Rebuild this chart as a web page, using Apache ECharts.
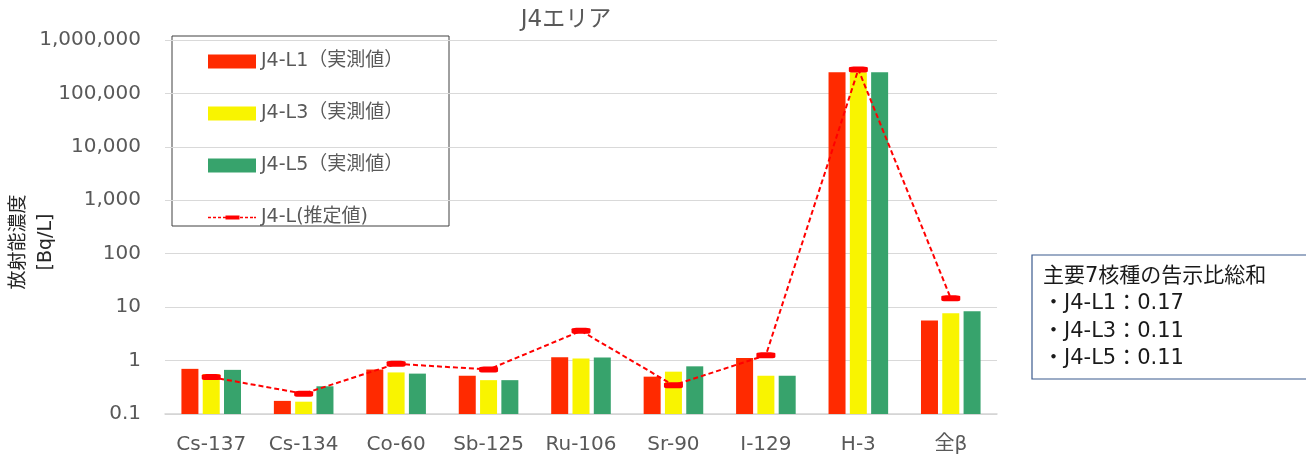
<!DOCTYPE html>
<html>
<head>
<meta charset="utf-8">
<script src="https://cdn.jsdelivr.net/npm/echarts@6/dist/echarts.min.js"></script>
<style>
  html, body { margin: 0; padding: 0; background: #ffffff; }
  #chart { width: 1306px; height: 461px; }
</style>
</head>
<body>
<div id="chart"></div>
<script>
// Nuclides on the category axis
const categories = ['Cs-137', 'Cs-134', 'Co-60', 'Sb-125', 'Ru-106', 'Sr-90', 'I-129', 'H-3', '全β'];

// Measured concentrations [Bq/L]
const seriesNames = ['J4-L1（実測値）', 'J4-L3（実測値）', 'J4-L5（実測値）', 'J4-L(推定値)'];
const l1Measured = [0.70, 0.176, 0.68, 0.52, 1.15, 0.50, 1.12, 250000, 5.6];
const l3Measured = [0.56, 0.17, 0.60, 0.43, 1.09, 0.62, 0.52, 250000, 7.7];
const l5Measured = [0.67, 0.33, 0.57, 0.43, 1.14, 0.78, 0.52, 250000, 8.4];
// Estimated concentrations [Bq/L]
const lEstimated = [0.49, 0.24, 0.87, 0.68, 3.6, 0.345, 1.26, 281000, 14.6];

// Y axis tick labels (log scale, one per decade)
const yTickLabels = ['0.1', '1', '10', '100', '1,000', '10,000', '100,000', '1,000,000'];

// Sum of notification ratios for the main 7 nuclides
const ratioTitle = '主要7核種の告示比総和';
const ratioLines = ['・J4-L1：0.17', '・J4-L3：0.11', '・J4-L5：0.11'];

const FONT = 'DejaVu Sans, "Noto Sans CJK JP", sans-serif';
const GRAY = '#595959';
const AXIS_FLOOR = 0.1;   // bars rise from the bottom of the log axis
const BAR_W = 17;
const BAR_PITCH = 21.3;

// Legend glyph for the estimate: short dashes with a flat marker in the middle.
// The two tiny corner specks pin the glyph box to the full 48x14 item size.
const estimateIcon = 'path://M0,0L0.01,0L0,0.01Z M48,14L47.99,14L48,13.99Z ' +
  'M0,6.3H3V7.7H0Z M5,6.3H8V7.7H5Z M10,6.3H13V7.7H10Z M15,6.3H17.5V7.7H15Z ' +
  'M17.5,5H31.5V9H17.5Z ' +
  'M32,6.3H35V7.7H32Z M37,6.3H40V7.7H37Z M42,6.3H45V7.7H42Z M46,6.3H48V7.7H46Z';

const chart = echarts.init(document.getElementById('chart'), null, { renderer: 'canvas' });

function tickLabel(v) {
  const exp = Math.round(Math.log10(v));
  return yTickLabels[exp + 1] !== undefined ? yTickLabels[exp + 1] : String(v);
}

// Grouped bar drawn from the axis floor up to its value on the log scale
function barSeries(name, values, color, slot) {
  return {
    name: name,
    type: 'custom',
    data: values.map((v, i) => [i, v]),
    encode: { x: 0, y: 1 },
    itemStyle: { color: color },
    z: 2,
    renderItem: function (params, api) {
      const i = api.value(0);
      const top = api.coord([i, api.value(1)]);
      const base = api.coord([i, AXIS_FLOOR]);
      const cx = top[0] + (slot - 1) * BAR_PITCH;
      return {
        type: 'rect',
        shape: { x: cx - BAR_W / 2, y: top[1], width: BAR_W, height: base[1] - top[1] },
        style: { fill: color }
      };
    }
  };
}

chart.setOption({
  animation: false,
  title: {
    text: 'J4エリア',
    left: 561,
    textAlign: 'center',
    top: 4,
    textStyle: { fontFamily: FONT, fontSize: 23, fontWeight: 'normal', color: GRAY }
  },
  grid: { left: 165, right: 309, top: 40, bottom: 47, containLabel: false },
  legend: {
    orient: 'vertical',
    left: 208,
    top: 52,
    padding: 0,
    itemGap: 33,
    itemWidth: 48,
    itemHeight: 14,
    data: [
      { name: seriesNames[0], icon: 'rect' },
      { name: seriesNames[1], icon: 'rect' },
      { name: seriesNames[2], icon: 'rect' },
      { name: seriesNames[3], icon: estimateIcon }
    ],
    textStyle: { fontFamily: FONT, fontSize: 19, color: GRAY },
    selectedMode: false
  },
  xAxis: {
    type: 'category',
    data: categories,
    axisLine: { lineStyle: { color: '#d4d4d4', width: 1.5 } },
    axisTick: { inside: true, length: 6, lineStyle: { color: '#d4d4d4' } },
    axisLabel: { fontFamily: FONT, fontSize: 20, color: GRAY, margin: 21 }
  },
  yAxis: {
    type: 'log',
    logBase: 10,
    min: 0.1,
    max: 1000000,
    splitNumber: 7,
    axisLine: { show: false },
    axisTick: { show: false },
    splitLine: { lineStyle: { color: '#d9d9d9', width: 1 } },
    axisLabel: {
      fontFamily: FONT, fontSize: 20, color: GRAY, margin: 24,
      formatter: tickLabel
    }
  },
  graphic: [
    {
      type: 'rect',
      shape: { x: 172, y: 36, width: 277, height: 190 },
      style: { fill: 'none', stroke: '#404040', lineWidth: 1 },
      silent: true
    },
    {
      type: 'text',
      x: 33, y: 242,
      rotation: Math.PI / 2,
      style: {
        text: '放射能濃度\n[Bq/L]',
        font: '19px ' + FONT,
        fill: '#262626',
        textAlign: 'center',
        textVerticalAlign: 'middle',
        lineHeight: 27
      },
      silent: true
    },
    {
      type: 'rect',
      shape: { x: 1032, y: 255, width: 280, height: 124 },
      style: { fill: '#ffffff', stroke: '#3b5a8e', lineWidth: 1.2 },
      silent: true
    },
    {
      type: 'text',
      x: 1043, y: 263,
      style: {
        text: [ratioTitle].concat(ratioLines).join('\n'),
        font: '21px ' + FONT,
        fill: '#1a1a1a',
        lineHeight: 27.3
      },
      silent: true
    }
  ],
  series: [
    barSeries(seriesNames[0], l1Measured, '#ff2a00', 0),
    barSeries(seriesNames[1], l3Measured, '#f9f400', 1),
    barSeries(seriesNames[2], l5Measured, '#37a36c', 2),
    {
      name: seriesNames[3],
      type: 'line',
      data: lEstimated,
      symbol: 'roundRect',
      symbolSize: [19, 6],
      itemStyle: { color: '#ff0000' },
      lineStyle: { color: '#ff0000', width: 2, type: [5, 3] },
      z: 5,
      emphasis: { disabled: true }
    }
  ]
});
</script>
</body>
</html>
